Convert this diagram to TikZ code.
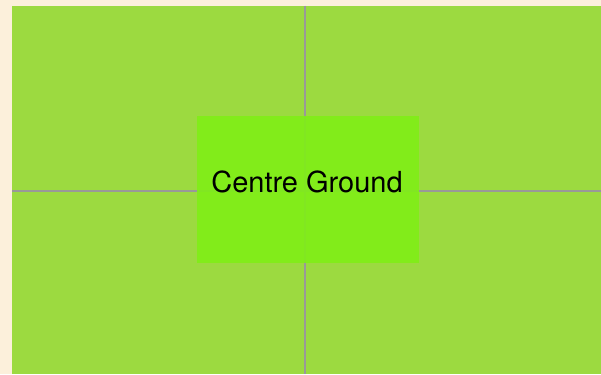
\documentclass[tikz,border=0pt]{standalone}
\usepackage{fontspec}
\setmainfont{TeX Gyre Heros}
\usepackage{tikz}
\usetikzlibrary{positioning}
\definecolor{cream}{HTML}{FCF0DB}
\definecolor{field}{HTML}{9CDA40}
\definecolor{centre}{HTML}{80EE17}
\definecolor{divider}{HTML}{999999}

\begin{document}
\begin{tikzpicture}[x=1pt,y=-1pt,
  zone/.style={fill=centre,fill opacity=0.92,minimum width=222pt,minimum height=147pt,inner sep=0pt},
  lbl/.style={font=\fontsize{29}{34}\selectfont,inner sep=0pt,anchor=base},
  line/.style={draw=divider,line width=2pt}]
\fill[cream] (0,0) rectangle (601,374);
\useasboundingbox (0,0) rectangle (601,374);
\fill[field] (12,6) rectangle (601,374);
\coordinate (W) at (12,191);
\coordinate (E) at (601,191);
\coordinate (N) at (305,6);
\coordinate (S) at (305,374);
\draw[line] (W) -- (E);
\draw[line] (N) -- (S);
\node[zone] (C) at (308,189.5) {};
\node[lbl] (T) at (307,192) {Centre Ground};
\end{tikzpicture}
\end{document}
